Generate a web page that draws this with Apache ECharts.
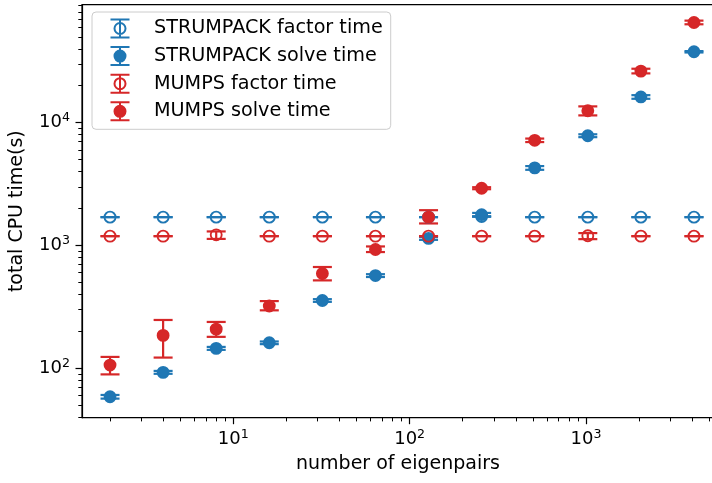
<!DOCTYPE html>
<html><head><meta charset="utf-8">
<script src="https://cdn.jsdelivr.net/npm/echarts@6/dist/echarts.min.js"></script>
<style>html,body{margin:0;padding:0;background:#fff}#c{width:712px;height:483px}</style>
</head><body><div id="c"></div>
<script>
// ---- data ----
const eigenpairs = [2, 4, 8, 16, 32, 64, 128, 256, 512, 1024, 2048, 4096];

const strumpackFactor   = [1700, 1700, 1700, 1700, 1700, 1700, 1700, 1720, 1700, 1700, 1700, 1700];
const strumpackFactorLo = [1700, 1700, 1700, 1700, 1700, 1700, 1700, 1720, 1700, 1700, 1700, 1700];
const strumpackFactorHi = [1700, 1700, 1700, 1700, 1700, 1700, 1700, 1720, 1700, 1700, 1700, 1700];

const strumpackSolve   = [58.5, 92.5, 145, 161, 356, 568, 1140, 1780, 4280, 7830, 16200, 37800];
const strumpackSolveLo = [56.5, 90.0, 141, 157, 347, 553, 1110, 1720, 4130, 7620, 15650, 37300];
const strumpackSolveHi = [60.5, 95.0, 149, 165, 365, 583, 1170, 1840, 4430, 8040, 16750, 38300];

const mumpsFactor   = [1190, 1190, 1220, 1190, 1190, 1190, 1190, 1190, 1190, 1200, 1190, 1190];
const mumpsFactorLo = [1190, 1190, 1130, 1190, 1190, 1190, 1190, 1190, 1190, 1125, 1190, 1190];
const mumpsFactorHi = [1190, 1190, 1300, 1190, 1190, 1190, 1190, 1190, 1190, 1260, 1190, 1190];

const mumpsSolve   = [106, 185, 208, 321, 591, 927, 1700, 2920, 7180, 12500, 26300, 65500];
const mumpsSolveLo = [89, 122, 180, 296, 519, 883, 1510, 2870, 6950, 11460, 25200, 63300];
const mumpsSolveHi = [123.5, 247, 238, 352, 667, 981, 1936, 2980, 7420, 13570, 27500, 67800];

const seriesNames = ['STRUMPACK factor time', 'STRUMPACK solve time', 'MUMPS factor time', 'MUMPS solve time'];

const xMajorTicks = [10, 100, 1000];
const xMinorTicks = [2, 3, 4, 5, 6, 7, 8, 9, 20, 30, 40, 50, 60, 70, 80, 90,
                     200, 300, 400, 500, 600, 700, 800, 900, 2000, 3000, 4000, 5000];
const yMajorTicks = [100, 1000, 10000];
const yMinorTicks = [40, 50, 60, 70, 80, 90, 200, 300, 400, 500, 600, 700, 800, 900,
                     2000, 3000, 4000, 5000, 6000, 7000, 8000, 9000,
                     20000, 30000, 40000, 50000, 60000, 70000, 80000, 90000];

// ---- style ----
const BLUE = '#1f77b4', RED = '#d62728';
const FONT = 'DejaVu Sans';
const X_MIN = 1.387, X_MAX = 5320, Y_MIN = 39.5, Y_MAX = 91400;

function errSeries(vals, lo, hi, color) {
  return {
    type: 'custom', silent: true, animation: false,
    xAxisIndex: 0, yAxisIndex: 0,
    data: eigenpairs.map((x, i) => [x, vals[i], lo[i], hi[i]]),
    encode: { x: 0, y: [1, 2, 3] },
    renderItem(params, api) {
      const x = api.value(0);
      const pLo = api.coord([x, api.value(2)]);
      const pHi = api.coord([x, api.value(3)]);
      const hw = 9.5;
      const st = { stroke: color, lineWidth: 2.2, fill: null };
      return { type: 'group', children: [
        { type: 'line', shape: { x1: pLo[0], y1: pLo[1], x2: pHi[0], y2: pHi[1] }, style: st },
        { type: 'line', shape: { x1: pLo[0] - hw, y1: pLo[1], x2: pLo[0] + hw, y2: pLo[1] }, style: st },
        { type: 'line', shape: { x1: pHi[0] - hw, y1: pHi[1], x2: pHi[0] + hw, y2: pHi[1] }, style: st }
      ]};
    }
  };
}
function dotSeries(name, vals, color, filled) {
  return {
    type: 'scatter', name, silent: true, animation: false,
    xAxisIndex: 0, yAxisIndex: 0,
    data: eigenpairs.map((x, i) => [x, vals[i]]),
    symbol: 'circle', symbolSize: 11,
    itemStyle: { color: filled ? color : 'transparent', borderColor: color, borderWidth: 1.85, opacity: 1 }
  };
}

const ICON = 'path://M0,0L0,0M39,20L39,20M0.5,1L19.5,1M0.5,19L19.5,19M10,1L10,19M4.5,10A5.5,5.5,0,1,0,15.5,10A5.5,5.5,0,1,0,4.5,10Z';

const rich = {
  b: { fontFamily: FONT, fontSize: 18, lineHeight: 22, color: '#000' },
  sup: { fontFamily: FONT, fontSize: 12.6, lineHeight: 12, verticalAlign: 'top', color: '#000' }
};
const supFmt = v => '{b|10}{sup|' + Math.round(Math.log10(v)) + '}';

const chart = echarts.init(document.getElementById('c'), null, { renderer: 'canvas' });
chart.setOption({
  animation: false,
  backgroundColor: '#fff',
  grid: { left: 82, top: 4.7, right: -2, bottom: 65.3, show: true, borderColor: '#000', borderWidth: 1.2,
          backgroundColor: 'transparent', outerBoundsMode: 'none', containLabel: false },
  legend: {
    show: true, orient: 'vertical', left: 92, top: 12,
    padding: [5.5, 8, 7, 17],
    itemWidth: 39, itemHeight: 20, itemGap: 5.6,
    backgroundColor: 'rgba(255,255,255,0.8)', borderColor: '#cccccc', borderWidth: 1, borderRadius: 4,
    textStyle: { fontFamily: FONT, fontSize: 19.2, color: '#000', lineHeight: 20 },
    selectedMode: false,
    data: [
      { name: seriesNames[0], icon: ICON, itemStyle: { color: 'transparent', borderColor: BLUE, borderWidth: 2 } },
      { name: seriesNames[1], icon: ICON, itemStyle: { color: BLUE, borderColor: BLUE, borderWidth: 2 } },
      { name: seriesNames[2], icon: ICON, itemStyle: { color: 'transparent', borderColor: RED, borderWidth: 2 } },
      { name: seriesNames[3], icon: ICON, itemStyle: { color: RED, borderColor: RED, borderWidth: 2 } }
    ]
  },
  xAxis: [{
    type: 'log', logBase: 10, min: X_MIN, max: X_MAX, position: 'bottom',
    name: 'number of eigenpairs', nameLocation: 'middle', nameGap: 37,
    nameTextStyle: { fontFamily: FONT, fontSize: 19, color: '#000' },
    axisLine: { show: true, onZero: false, lineStyle: { color: '#000', width: 1.2 } },
    axisTick: { show: true, inside: false, length: 6.5, customValues: xMajorTicks, lineStyle: { color: '#000', width: 1.2 } },
    axisLabel: { show: true, margin: 11, customValues: xMajorTicks, formatter: supFmt, rich, color: '#000' },
    splitLine: { show: false }, minorTick: { show: false }, minorSplitLine: { show: false }
  }, {
    type: 'log', logBase: 10, min: X_MIN, max: X_MAX, position: 'bottom',
    axisLine: { show: false, onZero: false },
    axisTick: { show: true, inside: false, length: 3.7, customValues: xMinorTicks, lineStyle: { color: '#000', width: 1 } },
    axisLabel: { show: false }, splitLine: { show: false }
  }],
  yAxis: [{
    type: 'log', logBase: 10, min: Y_MIN, max: Y_MAX, position: 'left',
    name: 'total CPU time(s)', nameLocation: 'middle', nameGap: 55,
    nameTextStyle: { fontFamily: FONT, fontSize: 19, color: '#000' },
    axisLine: { show: true, onZero: false, lineStyle: { color: '#000', width: 1.2 } },
    axisTick: { show: true, inside: false, length: 6.5, customValues: yMajorTicks, lineStyle: { color: '#000', width: 1.2 } },
    axisLabel: { show: true, margin: 12, customValues: yMajorTicks, formatter: supFmt, rich, color: '#000' },
    splitLine: { show: false }, minorTick: { show: false }, minorSplitLine: { show: false }
  }, {
    type: 'log', logBase: 10, min: Y_MIN, max: Y_MAX, position: 'left',
    axisLine: { show: false, onZero: false },
    axisTick: { show: true, inside: false, length: 3.7, customValues: yMinorTicks, lineStyle: { color: '#000', width: 1 } },
    axisLabel: { show: false }, splitLine: { show: false }
  }],
  series: [
    errSeries(strumpackFactor, strumpackFactorLo, strumpackFactorHi, BLUE),
    dotSeries(seriesNames[0], strumpackFactor, BLUE, false),
    errSeries(strumpackSolve, strumpackSolveLo, strumpackSolveHi, BLUE),
    dotSeries(seriesNames[1], strumpackSolve, BLUE, true),
    errSeries(mumpsFactor, mumpsFactorLo, mumpsFactorHi, RED),
    dotSeries(seriesNames[2], mumpsFactor, RED, false),
    errSeries(mumpsSolve, mumpsSolveLo, mumpsSolveHi, RED),
    dotSeries(seriesNames[3], mumpsSolve, RED, true)
  ]
});
</script></body></html>
